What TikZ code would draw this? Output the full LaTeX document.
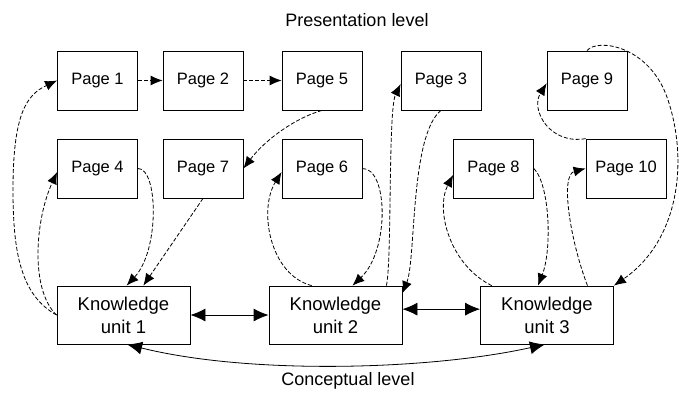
\documentclass[tikz,border=0pt]{standalone}
\usepackage{fontspec}
\setmainfont{Liberation Sans}
\usepackage{tikz}
\usetikzlibrary{arrows.meta}

\begin{document}
\begin{tikzpicture}[
  x=1pt, y=-1pt,
  page/.style={draw, line width=0.8pt, minimum width=80pt, minimum height=59pt, inner sep=0pt, font=\fontsize{16.5}{19}\selectfont},
  unit/.style={draw, line width=0.8pt, minimum width=133pt, minimum height=58pt, inner sep=0pt, align=center, font=\fontsize{18.5}{23}\selectfont},
  link/.style={->, dashed, dash pattern=on 4pt off 2pt, line width=0.8pt},
  both/.style={<->, line width=0.8pt, >={Latex[length=15pt,width=13pt]}},
  >={Latex[length=12pt,width=10pt]}
]
\useasboundingbox (0,0) rectangle (679,392);

% Nodes
\node[font=\fontsize{18}{21}\selectfont] (pres) at (357,20) {Presentation level};
\node[font=\fontsize{18}{21}\selectfont] (concept) at (348,381) {Conceptual level};

\node[page] (p1) at (97.5,80.5) {Page 1};
\node[page] (p2) at (203,80.5) {Page 2};
\node[page] (p5) at (322,80.5) {Page 5};
\node[page] (p3) at (441,80.5) {Page 3};
\node[page] (p9) at (587,80.5) {Page 9};

\node[page] (p4) at (97.5,168.5) {Page 4};
\node[page] (p7) at (203,168.5) {Page 7};
\node[page] (p6) at (322,168.5) {Page 6};
\node[page] (p8) at (493.5,168.5) {Page 8};
\node[page] (p10) at (626,168.5) {Page 10};

\node[unit] (ku1) at (123.5,315) {Knowledge\\unit 1};
\node[unit] (ku2) at (335.5,315) {Knowledge\\unit 2};
\node[unit] (ku3) at (547,315) {Knowledge\\unit 3};

% Connections between pages
\draw[link] (p1) -- (p2);
\draw[link] (p2) -- (p5);
\draw[link] (p5.south) .. controls (295,118) and (265,140) .. (p7.east);
\draw[link] (p10.north west) .. controls (550,145) and (530,110) .. (p9.184);

% Unit 1
\draw[link] (ku1.west) .. controls (20,295) and (13,250) .. (13,190) .. controls (13,115) and (26,95) .. (p1.west);
\draw[link] (ku1.west) .. controls (30,290) and (35,220) .. (p4.185);
\draw[link] (p4.east) .. controls (158,168) and (160,250) .. (ku1.84);
\draw[link] (p7.south) -- (ku1.56);

% Unit 2
\draw[link] (ku2.129) .. controls (270,275) and (258,210) .. (p6.185);
\draw[link] (p6.east) .. controls (388,168) and (390,250) .. (ku2.60);
\draw[link] (ku2.30) .. controls (392,260) and (388,110) .. (p3.185);
\draw[link] (p3.south) .. controls (410,135) and (416,260) .. (ku2.18);

% Unit 3
\draw[link] (ku3.152) .. controls (450,265) and (435,210) .. (p8.189);
\draw[link] (p8.east) .. controls (550,185) and (552,250) .. (ku3.107);
\draw[link] (ku3.36) .. controls (570,240) and (560,175) .. (p10.west);
\draw[link] (p9.north) .. controls (597,38) and (650,45) .. (668,100) .. controls (688,160) and (680,240) .. (ku3.north east);

% Conceptual links
\draw[both] (ku1) -- (ku2);
\draw[both] (ku2.5) -- (ku3.175);
\draw[both] (ku1.-83) .. controls (250,375) and (430,370) .. (ku3.266);

\end{tikzpicture}
\end{document}
